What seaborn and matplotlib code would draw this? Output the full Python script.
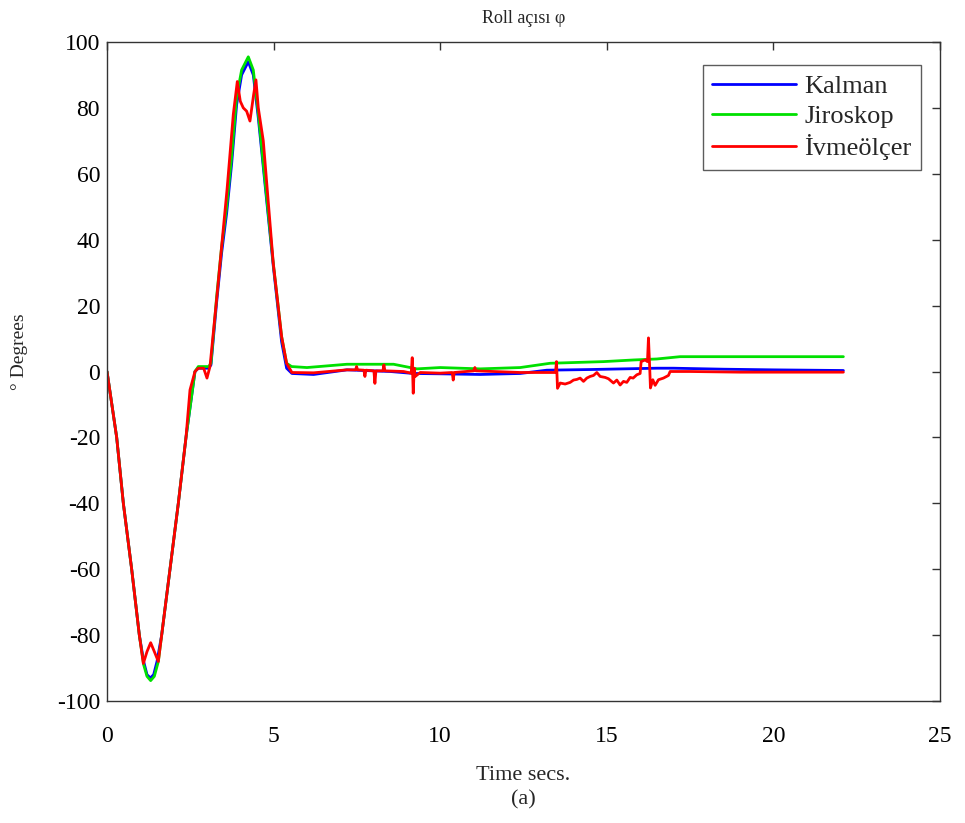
import matplotlib
matplotlib.use("Agg")
import matplotlib.pyplot as plt
import seaborn as sns
import pandas as pd

# Kalman filter output (blue)
kalman_t = [0, 0.29, 0.49, 0.74, 0.97, 1.1, 1.2, 1.3, 1.4, 1.5, 1.64, 1.89, 2.14, 2.37,
            2.64, 2.74, 3.05, 3.12, 3.29, 3.44, 3.59, 3.74, 3.89, 4.04, 4.24, 4.39, 4.54,
            4.74, 4.99, 5.24, 5.39, 5.55, 6.2, 7.2, 8.5, 9.2, 10.0, 11.2, 12.4, 13.2,
            14.5, 15.5, 16.5, 17.0, 18.5, 20.0, 22.1]
kalman_y = [0, -20, -40, -60, -80, -88, -92, -93, -92, -88, -80, -60, -40, -20,
            0, 1, 1, 2, 21, 36, 48, 63, 81, 90, 94, 90, 77,
            57, 32, 9, 1, -0.6, -0.9, 0.5, 0, -0.6, -0.7, -0.9, -0.6, 0.4,
            0.6, 0.8, 1.0, 1.0, 0.7, 0.5, 0.3]

# Gyroscope (green)
jiro_t = [0, 0.29, 0.49, 0.74, 0.97, 1.1, 1.2, 1.31, 1.42, 1.54, 1.64, 1.89, 2.14, 2.37,
          2.64, 2.74, 3.05, 3.12, 3.29, 3.44, 3.59, 3.74, 3.89, 4.04, 4.24, 4.39, 4.54,
          4.74, 4.99, 5.24, 5.39, 5.54, 6.0, 7.2, 8.6, 9.3, 10.0, 11.2, 12.4, 13.3,
          14.9, 15.8, 16.5, 17.2, 22.1]
jiro_y = [0, -20, -40, -60, -80, -89, -92.5, -93.8, -92.5, -88, -80, -60, -40, -20,
          0, 1.5, 1.5, 2.5, 22.7, 37.9, 50, 65.2, 83.4, 91.5, 95.5, 91.5, 78.4,
          58, 32.8, 10.6, 2.5, 1.5, 1.2, 2.2, 2.2, 0.8, 1.2, 0.8, 1.2, 2.5,
          3.0, 3.5, 3.8, 4.5, 4.5]

# Accelerometer (red)
ivme_t = [0, 0.29, 0.49, 0.74, 0.97, 1.09, 1.2, 1.31, 1.42, 1.54, 1.64, 1.89, 2.14, 2.37,
          2.49, 2.64, 2.74, 2.9, 3.0, 3.09, 3.29, 3.44, 3.6, 3.79, 3.91, 4.0, 4.09, 4.19,
          4.29, 4.4, 4.47, 4.54, 4.69, 4.99, 5.24, 5.39, 5.55, 6.2, 7.2,
          7.46, 7.49, 7.52, 7.71, 7.74, 7.77, 8.01, 8.04, 8.07, 8.28, 8.31, 8.34, 8.9,
          9.13, 9.16, 9.19, 9.22, 9.25, 9.4, 10.0, 10.36, 10.39, 10.42, 11.01, 11.04, 11.07,
          12.4, 13.46, 13.49, 13.52, 13.6, 13.75, 13.9, 14.0, 14.1, 14.2, 14.3, 14.4, 14.5,
          14.6, 14.7, 14.8, 14.95, 15.05, 15.2, 15.3, 15.4, 15.5, 15.6, 15.7, 15.79, 15.9,
          16.0, 16.03, 16.15, 16.22, 16.25, 16.28, 16.31, 16.38, 16.45, 16.55, 16.7, 16.85,
          16.9, 17.5, 19.0, 22.1]
ivme_y = [0, -20, -40, -60, -80, -88.6, -85, -82.3, -85, -88, -80, -60, -40, -20,
          -5.6, 0, 1, 1, -2, 1.5, 22, 38, 55, 78, 88, 82, 80, 79,
          76, 84, 88.5, 80, 70, 32.8, 10.6, 2.5, -0.3, -0.4, 0.5,
          0.5, 1.5, 0.5, 0.4, -1.5, 0.4, 0.2, -3.6, 0.2, 0.2, 2.0, 0.2, 0,
          -0.5, 4.2, -6.6, 1.0, -1.5, -0.3, -0.5, -0.3, -2.6, -0.3, 0.2, 1.2, 0.2,
          -0.3, -0.3, 3.0, -5.1, -3.5, -3.8, -3.3, -2.6, -2.4, -2.0, -3.0, -2.0, -1.5,
          -1.2, -0.3, -1.5, -1.8, -2.2, -3.5, -2.6, -4.1, -3.0, -3.3, -1.8, -2.0, -1.0,
          -0.6, 3.0, 3.5, 3.0, 10.2, 3.0, -5.0, -2.5, -4.2, -2.5, -2.0, -1.2,
          0, 0, -0.2, -0.2]

series_names = ["Kalman", "Jiroskop", "İvmeölçer"]
series_colors = ["#0000ff", "#00e000", "#ff0000"]

df = pd.concat([
    pd.DataFrame({"t": kalman_t, "deg": kalman_y, "src": series_names[0]}),
    pd.DataFrame({"t": jiro_t, "deg": jiro_y, "src": series_names[1]}),
    pd.DataFrame({"t": ivme_t, "deg": ivme_y, "src": series_names[2]}),
], ignore_index=True)

sns.set_theme(style="white")
plt.rcParams["font.family"] = ["Liberation Serif", "DejaVu Serif"]
plt.rcParams["axes.unicode_minus"] = False

fig = plt.figure(figsize=(9.65, 8.23), dpi=100)
ax = fig.add_axes([0.1109, 0.1482, 0.8632, 0.8008])

sns.lineplot(data=df, x="t", y="deg", hue="src", hue_order=series_names,
             palette=dict(zip(series_names, series_colors)), estimator=None,
             sort=False, linewidth=2.0, ax=ax)

ax.set_xlim(0, 25)
ax.set_ylim(-100, 100)
ax.set_xticks([0, 5, 10, 15, 20, 25])
ax.set_yticks(range(-100, 101, 20))

for side in ax.spines.values():
    side.set_color("#333333")
    side.set_linewidth(1.0)

ax.tick_params(axis="both", which="both", direction="in", length=6, width=1,
               color="#333333", top=True, right=True, labelsize=17, labelcolor="black")
ax.tick_params(axis="x", pad=18)
ax.tick_params(axis="y", pad=5)

ax.set_title("Roll açısı φ", fontsize=13, pad=14)
ax.set_xlabel("Time secs.", fontsize=16, labelpad=14)
ax.set_ylabel("° Degrees", fontsize=14)
ax.yaxis.set_label_coords(-0.095, 0.53)
fig.text(0.5425, 0.028, "(a)", ha="center", va="center", fontsize=16)

leg = ax.legend(loc="upper right", bbox_to_anchor=(0.977, 0.965), borderaxespad=0,
                fontsize=19, frameon=True, fancybox=False, handlelength=3.2,
                labelspacing=0.25, borderpad=0.35, handletextpad=0.3)
leg.get_frame().set_edgecolor("#333333")
leg.get_frame().set_linewidth(1.0)
for handle in leg.get_lines():
    handle.set_linewidth(2.0)

fig.savefig("out.png", dpi=100)
